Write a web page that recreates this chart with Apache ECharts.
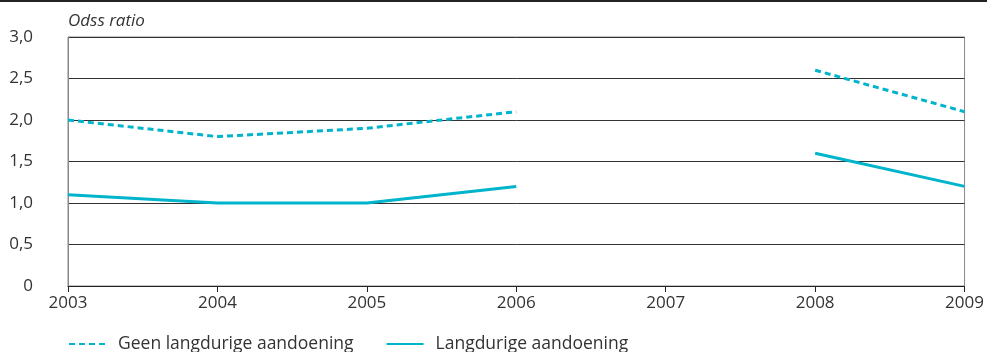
<!DOCTYPE html>
<html><head><meta charset="utf-8">
<script src="https://cdn.jsdelivr.net/npm/echarts@6/dist/echarts.min.js"></script>
<style>html,body{margin:0;padding:0;background:#fff}#c{width:987px;height:352px}</style>
</head><body><div id="c"></div>
<script>
const years = ['2003','2004','2005','2006','2007','2008','2009'];
const geen = [2.0, 1.8, 1.9, 2.1, null, 2.6, 2.1];
const langdurig = [1.1, 1.0, 1.0, 1.2, null, 1.6, 1.2];
const yTicks = [0, 0.5, 1, 1.5, 2, 2.5, 3];
const seriesNames = ['Geen langdurige aandoening', 'Langdurige aandoening'];
const yTitle = 'Odss ratio';

const color = '#00b4cc';
const font = 'Open Sans';
const chart = echarts.init(document.getElementById('c'), null, {renderer:'canvas'});
chart.setOption({
  animation:false,
  backgroundColor:'#fff',
  textStyle:{fontFamily:font},
  graphic:[{type:'rect', left:0, top:0, shape:{width:987, height:2}, style:{fill:'#222'}}],
  title:{text:yTitle, left:68, top:13, padding:0, textStyle:{fontFamily:font, fontStyle:'italic', fontWeight:'normal', fontSize:17, color:'#333'}},
  grid:{left:68, right:20, top:37, bottom:66, show:true, borderColor:'#888', borderWidth:1},
  legend:{left:68, top:335, itemWidth:37, itemHeight:3, itemGap:32, padding:0,
    itemStyle:{opacity:0},
    textStyle:{fontFamily:font, fontSize:17.5, color:'#333', padding:[0,0,18,7]},
    data:seriesNames},
  xAxis:{type:'category', data:years, boundaryGap:false,
    axisLine:{lineStyle:{color:'#222', width:1}},
    axisTick:{show:true, length:6, lineStyle:{color:'#222'}},
    axisLabel:{fontFamily:font, fontSize:17, color:'#333', margin:9}},
  yAxis:{type:'value', min:0, max:3, interval:0.5,
    axisLine:{show:true, lineStyle:{color:'#888'}},
    axisTick:{show:false},
    axisLabel:{fontFamily:font, fontSize:17, color:'#333', margin:35,
      formatter:v => v===0 ? '0' : v.toFixed(1).replace('.', ',')},
    splitLine:{lineStyle:{color:'#333', width:1}}},
  series:[
    {name:seriesNames[0], type:'line', data:geen, connectNulls:false, showSymbol:false, symbol:'none',
      lineStyle:{color:color, width:3, type:[6,4]}, itemStyle:{color:color}},
    {name:seriesNames[1], type:'line', data:langdurig, connectNulls:false, showSymbol:false, symbol:'none',
      lineStyle:{color:color, width:3}, itemStyle:{color:color}}
  ]
});
</script></body></html>
